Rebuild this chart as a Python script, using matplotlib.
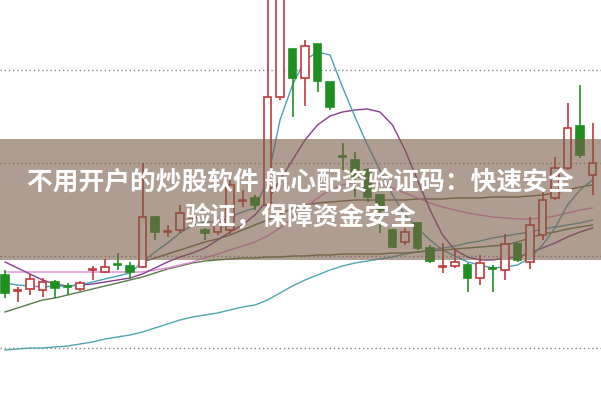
import matplotlib.pyplot as plt
import numpy as np

# candle values (higher = up), one per trading day
opens  = [125, 109, 111, 110, 118, 113.5, 111, 130, 128, 135.5, 134, 133,
          183, 168, 170, 182, 170, 168, 170, 199, 202, 195, 303, 351,
          322, 356, 318, 243.5, 240, 230, 205, 170, 158, 177, 152, 133,
          134, 135, 122, 131.5, 130, 156, 138, 165, 202, 232, 274, 225]
closes = [107, 110, 121, 118, 112, 113, 117, 130.5, 133, 135, 128, 183,
          168, 168.5, 187, 182.5, 167, 178, 215, 199.5, 195, 303, 410, 322,
          354, 319, 293, 243, 223, 203, 190, 153, 168, 152, 139, 133.5,
          138, 122, 137, 131, 156, 140, 175, 200, 232, 272, 245, 237]
highs  = [130, 113, 126, 122, 120, 117, 119, 134, 141, 147, 138, 237,
          184, 175, 195, 186, 172, 182, 220, 210, 205, 420, 430, 351,
          360, 356, 318, 257, 248, 232, 206, 171, 172, 178, 155, 157,
          152, 137, 145, 135, 166, 157, 183, 210, 243, 297, 315, 277]
lows   = [102, 98, 105, 103, 102, 105, 109, 120, 127, 130, 121, 132,
          160, 163, 167, 178, 160, 165, 165, 193, 190, 190, 300, 283,
          294, 308, 290, 230, 203, 198, 167, 152, 155, 150, 137, 127,
          132, 108, 115, 108, 120, 138, 131, 160, 200, 230, 242, 205]

# moving average lines
ma5  = [117, 115, 114, 113, 114, 114, 115, 118, 121, 124, 127, 138,
        148, 157, 167, 175, 178, 178, 183, 188, 192, 220, 280, 315,
        340, 348, 345, 313, 283, 255, 230, 205, 185, 172, 160, 150,
        144, 138, 135, 132, 133, 135, 142, 155, 172, 195, 210, 220]
ma10 = [138, 132, 126, 120, 116, 114, 115, 116, 118, 120, 122, 126,
        132, 138, 143, 147, 152, 160, 168, 175, 185, 200, 220, 240,
        260, 275, 284, 288, 290, 291, 288, 275, 250, 220, 190, 165,
        150, 143, 140, 140, 142, 143, 147, 152, 157, 163, 168, 172]
ma20 = [128, 128, 128, 128, 128, 128, 128, 128, 128, 128, 128, 128,
        130, 132, 135, 138, 142, 146, 150, 154, 158, 164, 172, 182,
        192, 202, 210, 215, 218, 218, 216, 212, 207, 202, 197, 193,
        190, 187, 185, 183, 182, 181, 181, 182, 184, 187, 190, 192]
ma30 = [88, 92, 96, 100, 102, 105, 108, 111, 114, 117, 120, 123,
        127, 131, 134, 137, 139, 140, 141, 142, 142, 143, 143, 144,
        144, 145, 145, 146, 146, 146, 146, 147, 147, 148, 149, 150,
        151, 152, 153, 154, 155, 158, 162, 166, 168, 171, 173, 175]
ma_mid = [None] * 11 + [138, 142, 146, 150, 154, 158, 161, 165, 170, 175,
          180, 186, 192, 195, 197, 198, 199, 200, 200, 200, 200, 200,
          201, 201, 201, 202, 202, 202, 203, 203, 203, 204, 205, 207,
          210, 213, 215]
ma60 = [50, 51, 52, 52, 53, 54, 56, 58, 61, 63, 65, 68,
        72, 76, 80, 83, 85, 87, 90, 93, 95, 100, 107, 114,
        120, 125, 130, 134, 137, 139, 141, 143, 146, 148, 150, 152,
        154, 157, 159, 162, 164, 166, 168, 171, 173, 175, 177, 180]

grid_levels = [330, 237, 144, 52]
title = "不用开户的炒股软件 航心配资验证码：快速安全\n验证，保障资金安全"

RED = '#c0393b'
GREEN = '#1f8f22'

fig = plt.figure(figsize=(6.01, 4.0), dpi=100)
ax = fig.add_axes([0, 0, 1, 1])
n = len(opens)
x = np.arange(n)

for lv in grid_levels:
    ax.axhline(lv, color='#888888', lw=1, ls=(0, (1, 2)), zorder=1)

def plot_ma(vals, color, lw=1.0):
    xs = [i for i, v in enumerate(vals) if v is not None]
    ys = [v for v in vals if v is not None]
    ax.plot(xs, ys, color=color, lw=lw, zorder=2)

plot_ma(ma60, '#4fa6ae')
plot_ma(ma30, '#5a7a4a')
plot_ma(ma_mid, '#6b6a45')
plot_ma(ma20, '#e48ad8')
plot_ma(ma10, '#8a3c8e')
plot_ma(ma5, '#4b9fb8')

for i in range(n):
    o, c, h, l = opens[i], closes[i], highs[i], lows[i]
    up = c >= o
    col = RED if up else GREEN
    ax.vlines(i, l, h, color=col, lw=1.2, zorder=3)
    bot = min(o, c)
    hgt = max(abs(c - o), 0.6)
    if up:
        ax.bar(i, hgt, bottom=bot, width=0.62, facecolor='white',
               edgecolor=col, lw=1.2, zorder=4)
    else:
        ax.bar(i, hgt, bottom=bot, width=0.62, facecolor=col,
               edgecolor=col, lw=1.2, zorder=4)

ax.set_xlim(-0.4, 47.68)
ax.set_ylim(0, 400)
ax.axis('off')

# semi-transparent banner with title
ax.axhspan(140, 261, color='#7a5c48', alpha=0.6, lw=0, zorder=5)
ax.text(0.5, 0.5, title, transform=ax.transAxes, ha='center', va='center',
        multialignment='center', color='white', fontsize=18.5,
        fontweight='bold', family=['Noto Sans CJK SC', 'DejaVu Sans'],
        linespacing=1.45, zorder=6)

fig.savefig('out.png', dpi=100)
